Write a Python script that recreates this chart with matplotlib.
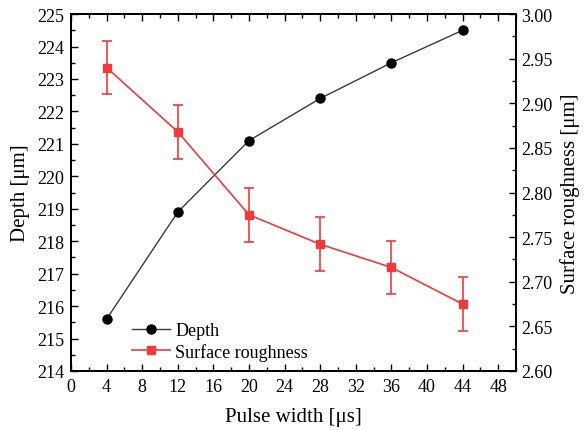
import matplotlib
matplotlib.use("Agg")
import matplotlib.pyplot as plt
from matplotlib.lines import Line2D
from matplotlib.ticker import MultipleLocator, FormatStrFormatter

plt.rcParams['font.family'] = ['Liberation Serif', 'DejaVu Serif']
plt.rcParams['mathtext.fontset'] = 'stix'

pulse_width = [4, 12, 20, 28, 36, 44]
depth = [215.6, 218.9, 221.1, 222.4, 223.5, 224.5]
roughness = [2.940, 2.868, 2.775, 2.742, 2.716, 2.675]
roughness_err = [0.030, 0.030, 0.030, 0.030, 0.030, 0.030]

fig = plt.figure(figsize=(5.87, 4.31), dpi=100)
ax = fig.add_axes([0.121, 0.137, 0.758, 0.828])
ax2 = ax.twinx()

red = '#ee3b3b'
l1, = ax.plot(pulse_width, depth, color='#3a3a3a', lw=1.0, marker='o', ms=6.5,
              mfc='black', mec='black', label='Depth', zorder=3)
ax2.errorbar(pulse_width, roughness, yerr=roughness_err, color=red, lw=1.2,
             marker='s', ms=6, mfc=red, mec=red, capsize=3.5, elinewidth=1.2,
             capthick=1.2, label='Surface roughness')
l2 = Line2D([], [], color=red, lw=1.2, marker='s', ms=6, mfc=red, mec=red)

ax.set_xlim(0, 50)
ax.set_ylim(214, 225)
ax2.set_ylim(2.60, 3.00)

ax.xaxis.set_major_locator(MultipleLocator(4))
ax.xaxis.set_minor_locator(MultipleLocator(2))
ax.yaxis.set_major_locator(MultipleLocator(1))
ax.yaxis.set_minor_locator(MultipleLocator(0.5))
ax2.yaxis.set_major_locator(MultipleLocator(0.05))
ax2.yaxis.set_minor_locator(MultipleLocator(0.025))
ax2.yaxis.set_major_formatter(FormatStrFormatter('%.2f'))

ax.tick_params(axis='both', which='both', direction='in', labelsize=13, width=1.0)
ax.tick_params(axis='x', which='both', top=True)
ax.tick_params(which='major', length=5, pad=5)
ax.tick_params(which='minor', length=3)
ax2.tick_params(axis='y', which='both', direction='in', labelsize=13, width=1.0)
ax2.tick_params(which='major', length=5, pad=4)
ax2.tick_params(which='minor', length=3)

for a in (ax, ax2):
    for s in a.spines.values():
        s.set_linewidth(1.3)

ax.set_xlabel('Pulse width [μs]', fontsize=15, labelpad=9)
ax.set_ylabel('Depth [μm]', fontsize=15, labelpad=5)
ax2.set_ylabel('Surface roughness [μm]', fontsize=15, labelpad=5)

leg = ax.legend([l1, l2], ['Depth', 'Surface roughness'], loc='lower left',
                bbox_to_anchor=(0.10, -0.017), frameon=False, fontsize=13,
                handlelength=2.1, handletextpad=0.3, labelspacing=0.2)

fig.savefig('out.png', dpi=100)
